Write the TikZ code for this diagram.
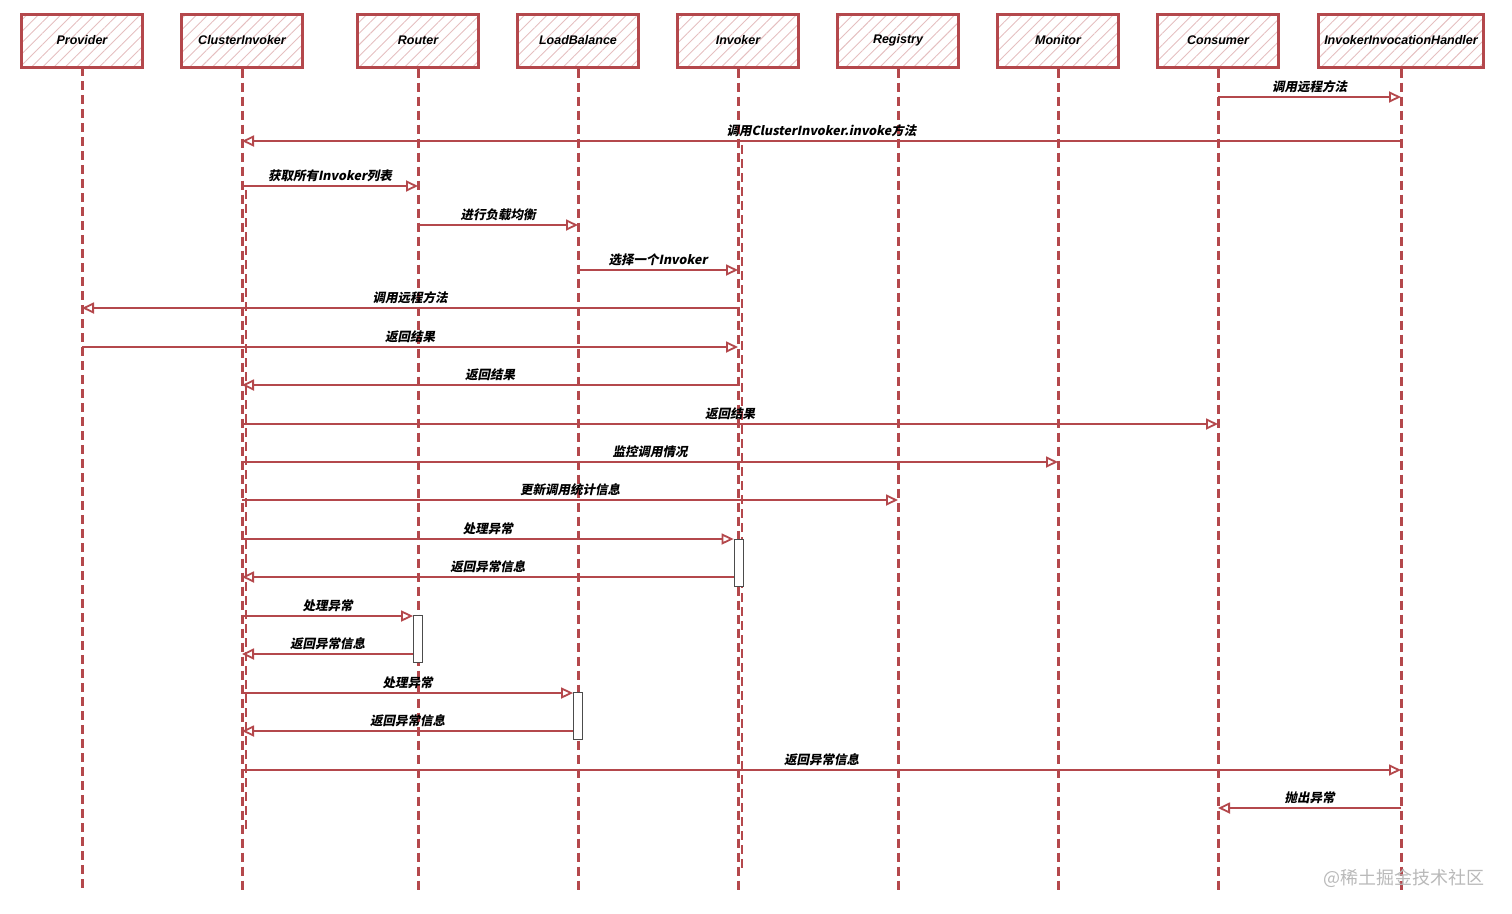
\documentclass[tikz,border=0pt]{standalone}
\usepackage{fontspec}
\setmainfont{Liberation Sans}
\newfontfamily\cjk{Noto Sans CJK SC}[FakeSlant=0.2]
\newfontfamily\cjkup{Noto Sans CJK SC}
\usetikzlibrary{arrows.meta,patterns.meta}
\definecolor{seqred}{RGB}{180,72,76}
\tikzset{
    actor/.style={
        draw=seqred,line width=3pt,
        pattern={Lines[angle=45,distance=8pt,line width=.9pt]},pattern color=seqred!35,
        minimum height=53pt,
        font=\fontsize{12.5}{14}\selectfont\bfseries\itshape
    },
    lifeline/.style={seqred,line width=3pt,dash pattern=on 9pt off 5pt},
    msg/.style={seqred,line width=2.8pt,->},
    msglabel/.style={above=1.5pt,inner sep=1pt,text=black,font=\cjk\fontsize{12.5}{14}\selectfont\bfseries},
    act/.style={draw=black!70,fill=white,line width=.8pt,minimum width=9pt,minimum height=47pt,inner sep=0pt},
    >={Triangle[open,length=12pt,width=11pt,line width=1.8pt]}
}
\begin{document}
\begin{tikzpicture}[x=1pt,y=-1pt]
\useasboundingbox (0,0) rectangle (1512,913);
\coordinate (bottom) at (0,893);
% participants
\foreach \x/\w/\name/\txt in {82/121/prov/Provider,242/121/ci/ClusterInvoker,418/121/rout/Router,
    578/121/lb/LoadBalance,738/121/inv/Invoker,898/121/reg/Registry,1058/121/mon/Monitor,
    1218/121/cons/Consumer,1401/165/hand/InvokerInvocationHandler}
    \node[actor,minimum width=\w pt] (\name) at (\x,40.5) {\txt};
\foreach \name in {prov,ci,rout,lb,inv,reg,mon,cons,hand}
    \draw[lifeline] (\name.south) -- (\name.south |- bottom);
% doubled strokes of the sketch
\draw[lifeline,line width=2.4pt] (246,190) -- (246,830);
\draw[lifeline,line width=2.4pt] (742,145) -- (742,870);
% activations
\node[act] (act_inv) at (738.5,562.5) {};
\node[act] (act_rout) at (418,639) {};
\node[act] (act_lb) at (578,716) {};
% messages
\foreach \y/\a/\b/\txt in {97/cons/hand/调用远程方法,141/hand/ci/调用ClusterInvoker.invoke方法,
    186/ci/rout/获取所有Invoker列表,225/rout/lb/进行负载均衡,270/lb/inv/选择一个Invoker,
    308/inv/prov/调用远程方法,347/prov/inv/返回结果,385/inv/ci/返回结果,424/ci/cons/返回结果,
    462/ci/mon/监控调用情况,500/ci/reg/更新调用统计信息,539/ci/act_inv.west/处理异常,
    577/act_inv.west/ci/返回异常信息,616/ci/act_rout.west/处理异常,654/act_rout.west/ci/返回异常信息,
    693/ci/act_lb.west/处理异常,731/act_lb.west/ci/返回异常信息,770/ci/hand/返回异常信息,808/hand/cons/抛出异常}
{
    \coordinate (m) at (0,\y);
    \draw[msg] (\a |- m) -- (\b |- m) node[msglabel,midway] {\txt};
}
\node[anchor=east,text=gray!55,font=\cjkup\fontsize{18}{20}\selectfont] (mark) at (1488,878) {@稀土掘金技术社区};
\end{tikzpicture}
\end{document}
